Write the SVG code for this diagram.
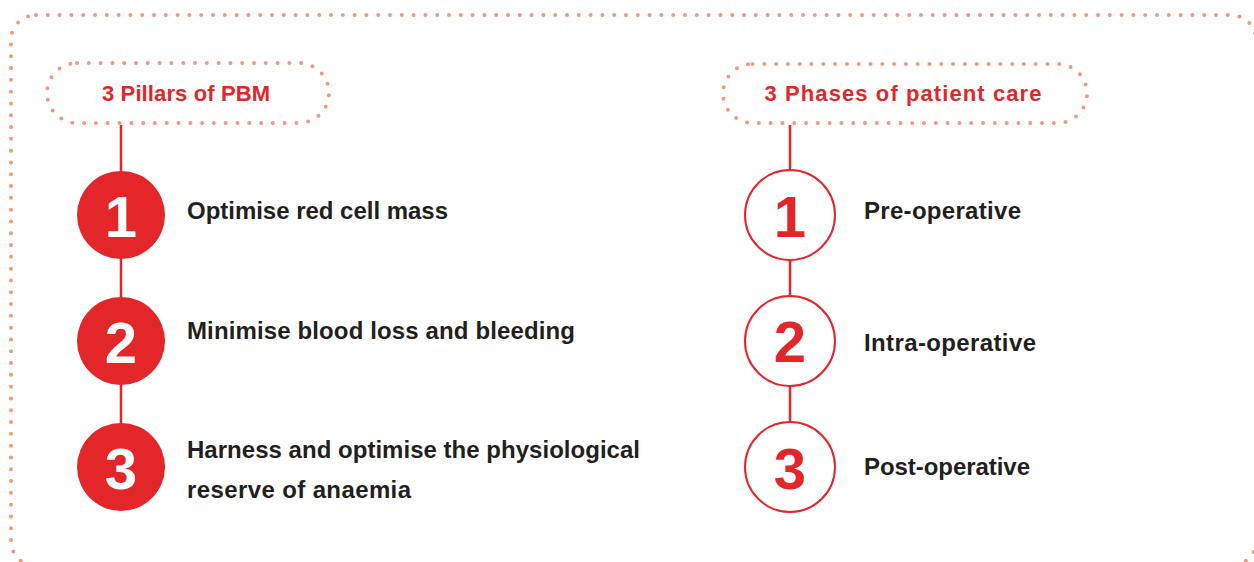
<svg xmlns="http://www.w3.org/2000/svg" width="1254" height="562" viewBox="0 0 1254 562">
<style>
.dots{fill:none;stroke:#f29a7b;stroke-width:4;stroke-linecap:round;stroke-dasharray:0 11.8}
.conn{stroke:#e3262a;stroke-width:2.5;fill:none}
.solid{fill:#e3262a}
.ring{fill:#fff;stroke:#e3262a;stroke-width:2}
.num{font-family:"Liberation Sans",Arial,sans-serif;font-weight:bold;font-size:58px;text-anchor:middle}
.lbl{font-family:"Liberation Sans",Arial,sans-serif;font-weight:bold;font-size:24px;fill:#231f20}
.head{font-family:"Liberation Sans",Arial,sans-serif;font-weight:bold;font-size:22px;fill:#e3262a;text-anchor:middle}
</style>
<rect class="dots" x="11" y="15" width="1245" height="551" rx="25"/>
<g id="connectors">
<line class="conn" x1="121" y1="125" x2="121" y2="172"/>
<line class="conn" x1="121" y1="258" x2="121" y2="298"/>
<line class="conn" x1="121" y1="384" x2="121" y2="424"/>
<line class="conn" x1="790" y1="125" x2="790" y2="170"/>
<line class="conn" x1="790" y1="260" x2="790" y2="296"/>
<line class="conn" x1="790" y1="386" x2="790" y2="422"/>
</g>
<g id="pillars-header">
<rect class="dots" x="47" y="63" width="282" height="60" rx="30"/>
<text class="head" x="186" y="101" textLength="168" lengthAdjust="spacing">3 Pillars of PBM</text>
</g>
<g id="phases-header">
<rect class="dots" x="723" y="64" width="364" height="59" rx="29.5"/>
<text class="head" x="903" y="101" textLength="277" lengthAdjust="spacing">3 Phases of patient care</text>
</g>
<g id="pillar-1">
<circle class="solid" cx="121" cy="215" r="44"/>
<text class="num" x="121" y="237" fill="#fff">1</text>
<text class="lbl" x="187" y="219" textLength="261" lengthAdjust="spacing">Optimise red cell mass</text>
</g>
<g id="pillar-2">
<circle class="solid" cx="121" cy="341" r="44"/>
<text class="num" x="121" y="363" fill="#fff">2</text>
<text class="lbl" x="187" y="339" textLength="388" lengthAdjust="spacing">Minimise blood loss and bleeding</text>
</g>
<g id="pillar-3">
<circle class="solid" cx="121" cy="467" r="44"/>
<text class="num" x="121" y="489" fill="#fff">3</text>
<text class="lbl" x="187" y="458" textLength="453" lengthAdjust="spacing">Harness and optimise the physiological</text>
<text class="lbl" x="187" y="498" textLength="224" lengthAdjust="spacing">reserve of anaemia</text>
</g>
<g id="phase-1">
<circle class="ring" cx="790" cy="215" r="45"/>
<text class="num" x="790" y="237" fill="#e3262a">1</text>
<text class="lbl" x="864" y="219" textLength="157" lengthAdjust="spacing">Pre-operative</text>
</g>
<g id="phase-2">
<circle class="ring" cx="790" cy="341" r="45"/>
<text class="num" x="790" y="362" fill="#e3262a">2</text>
<text class="lbl" x="864" y="351" textLength="172" lengthAdjust="spacing">Intra-operative</text>
</g>
<g id="phase-3">
<circle class="ring" cx="790" cy="467" r="45"/>
<text class="num" x="790" y="489" fill="#e3262a">3</text>
<text class="lbl" x="864" y="475" textLength="166" lengthAdjust="spacing">Post-operative</text>
</g>
</svg>
